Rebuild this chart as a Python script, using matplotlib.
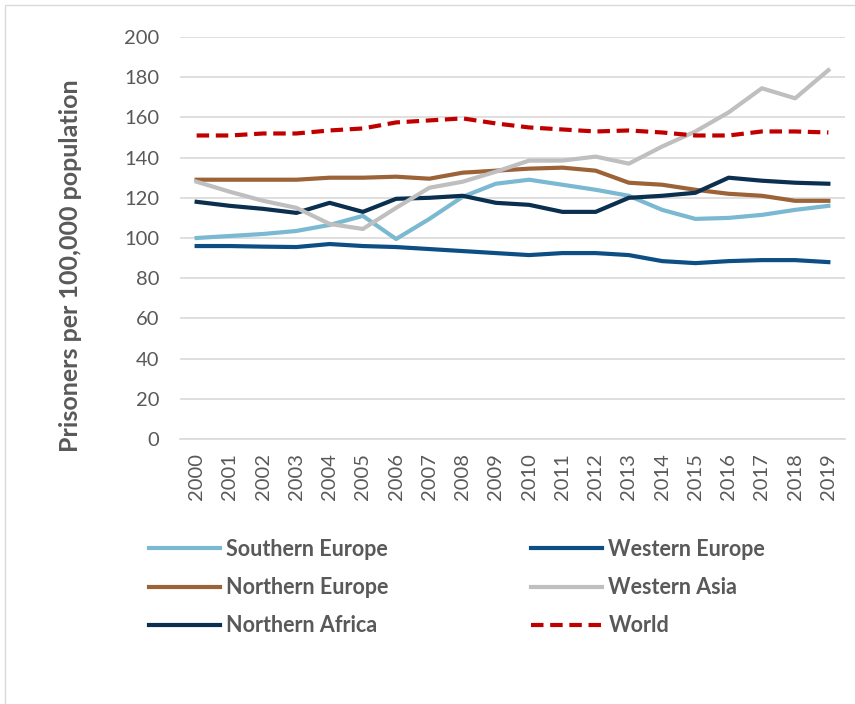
import matplotlib.pyplot as plt
from matplotlib.patches import Rectangle

years = [str(y) for y in range(2000, 2020)]

southern_europe = [100, 101, 102, 103.5, 106.5, 111, 99.5, 109.5, 120.5, 127,
                   129, 126.5, 124, 121, 114, 109.5, 110, 111.5, 114, 116]
western_europe = [96, 96, 95.7, 95.5, 97, 96, 95.5, 94.5, 93.5, 92.5,
                  91.5, 92.5, 92.5, 91.5, 88.5, 87.5, 88.5, 89, 89, 88]
northern_europe = [129, 129, 129, 129, 130, 130, 130.5, 129.5, 132.5, 133.5,
                   134.5, 135, 133.5, 127.5, 126.5, 124, 122, 121, 118.5, 118.5]
western_asia = [128, 123, 118.5, 115, 107, 104.5, 115, 125, 128, 133,
                138.5, 138.5, 140.5, 137, 145.5, 153, 162.5, 174.5, 169.5, 183.5]
northern_africa = [118, 116, 114.5, 112.5, 117.5, 113, 119.5, 120, 121, 117.5,
                   116.5, 113, 113, 120, 121, 122.5, 130, 128.5, 127.5, 127]
world = [151, 151, 152, 152, 153.5, 154.5, 157.5, 158.5, 159.5, 157,
         155, 154, 153, 153.5, 152.5, 151, 151, 153, 153, 152.5]

yticks = list(range(0, 201, 20))

plt.rcParams['font.family'] = ['Lato', 'DejaVu Sans']
txt = '#595959'

fig = plt.figure(figsize=(8.55, 7.04), dpi=100)
fig.patches.append(Rectangle((5/855, -0.01), 1.0, 1 - 5/704 + 0.01, transform=fig.transFigure,
                             fill=False, edgecolor='#D9D9D9', lw=1))
ax = fig.add_axes((180/855, 1 - 439/704, 665/855, 402/704))

x = range(len(years))
series = [
    ('Southern Europe', southern_europe, '#7AB9D1', '-'),
    ('Northern Europe', northern_europe, '#9C6238', '-'),
    ('Northern Africa', northern_africa, '#0B2F4F', '-'),
    ('Western Europe', western_europe, '#0D4F85', '-'),
    ('Western Asia', western_asia, '#BFBFBF', '-'),
    ('World', world, '#C00000', '--'),
]
handles = []
for name, vals, col, ls in series:
    h, = ax.plot(x, vals, ls, color=col, lw=3, label=name,
                 dashes=(3, 1.6) if ls == '--' else (None, None))
    handles.append(h)

ax.set_xlim(-0.5, len(years) - 0.5)
ax.set_ylim(0, 200)
ax.set_yticks(yticks)
ax.set_xticks(list(x))
ax.set_xticklabels(years, rotation=90, fontsize=14.5, color=txt)
ax.tick_params(axis='y', labelsize=14.5, labelcolor=txt, length=0, pad=15)
ax.tick_params(axis='x', length=0, pad=10)
ax.grid(axis='y', color='#D9D9D9', lw=1.2)
ax.set_axisbelow(True)
for s in ['top', 'right', 'left']:
    ax.spines[s].set_visible(False)
ax.spines['bottom'].set_color('#D9D9D9')
ax.spines['bottom'].set_linewidth(1.2)
ax.set_ylabel('Prisoners per 100,000 population', fontsize=18, fontweight='bold',
              color=txt)
ax.yaxis.set_label_coords(-0.147, 0.43)

leg = fig.legend(handles=handles, ncol=2, loc='upper left', bbox_to_anchor=(149/855, 1 - 539/704),
                 frameon=False, fontsize=15.5, handlelength=3.3, handletextpad=0.3,
                 columnspacing=6.6, labelspacing=0.8, borderpad=0, borderaxespad=0)
for t in leg.get_texts():
    t.set_color(txt)
    t.set_fontweight('bold')

fig.savefig('out.png', dpi=100)
